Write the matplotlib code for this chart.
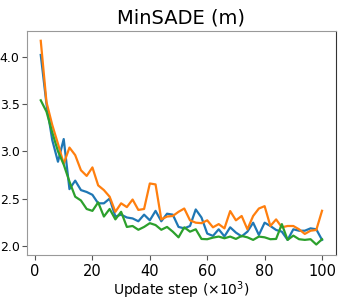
import matplotlib
matplotlib.use('Agg')
import matplotlib.pyplot as plt
import numpy as np

# update steps (x1000)
steps = list(range(2, 101, 2))

blue = [4.02, 3.50, 3.12, 2.89, 3.13, 2.60, 2.69, 2.59, 2.57, 2.54,
        2.45, 2.45, 2.50, 2.31, 2.33, 2.30, 2.29, 2.26, 2.33, 2.27,
        2.37, 2.26, 2.34, 2.33, 2.20, 2.185, 2.21, 2.385, 2.30, 2.13,
        2.105, 2.175, 2.10, 2.196, 2.14, 2.10, 2.15, 2.245, 2.115, 2.245,
        2.21, 2.168, 2.15, 2.063, 2.175, 2.16, 2.16, 2.185, 2.175, 2.063]

orange = [4.17, 3.52, 3.28, 3.08, 2.87, 3.04, 2.96, 2.80, 2.74, 2.83,
          2.64, 2.59, 2.52, 2.36, 2.45, 2.41, 2.49, 2.38, 2.39, 2.66,
          2.65, 2.28, 2.31, 2.316, 2.36, 2.395, 2.27, 2.245, 2.24, 2.27,
          2.196, 2.23, 2.185, 2.368, 2.27, 2.316, 2.175, 2.316, 2.395, 2.42,
          2.21, 2.28, 2.196, 2.21, 2.21, 2.175, 2.126, 2.16, 2.168, 2.371]

green = [3.54, 3.42, 3.20, 3.00, 2.86, 2.68, 2.52, 2.48, 2.39, 2.37,
         2.46, 2.31, 2.39, 2.28, 2.36, 2.20, 2.21, 2.17, 2.20, 2.24,
         2.22, 2.17, 2.20, 2.15, 2.09, 2.196, 2.15, 2.175, 2.073, 2.07,
         2.087, 2.098, 2.08, 2.098, 2.073, 2.105, 2.09, 2.063, 2.098, 2.09,
         2.07, 2.073, 2.23, 2.063, 2.108, 2.07, 2.063, 2.07, 2.014, 2.07]

fig = plt.figure(figsize=(3.4, 3.0), dpi=100)
ax = fig.add_axes([0.0785, 0.151, 0.91, 0.747])

ax.plot(steps, blue, color='#1f77b4', lw=1.6)
ax.plot(steps, orange, color='#ff7f0e', lw=1.6)
ax.plot(steps, green, color='#2ca02c', lw=1.6)

ax.set_title('MinSADE (m)', fontsize=14, pad=5)
ax.set_xlabel(r'Update step ($\times$10$^3$)', fontsize=10, labelpad=0)
ax.set_xticks([0, 20, 40, 60, 80, 100])
ax.set_yticks([2.0, 2.5, 3.0, 3.5, 4.0])
ax.tick_params(color='#555555')
ax.tick_params(axis='x', labelsize=10.5)
ax.tick_params(axis='y', labelsize=9, pad=1.5)

for s in ['left', 'bottom', 'top']:
    ax.spines[s].set_color('#999999')
ax.spines['right'].set_color('#333333')

fig.savefig('out.png', dpi=100)
